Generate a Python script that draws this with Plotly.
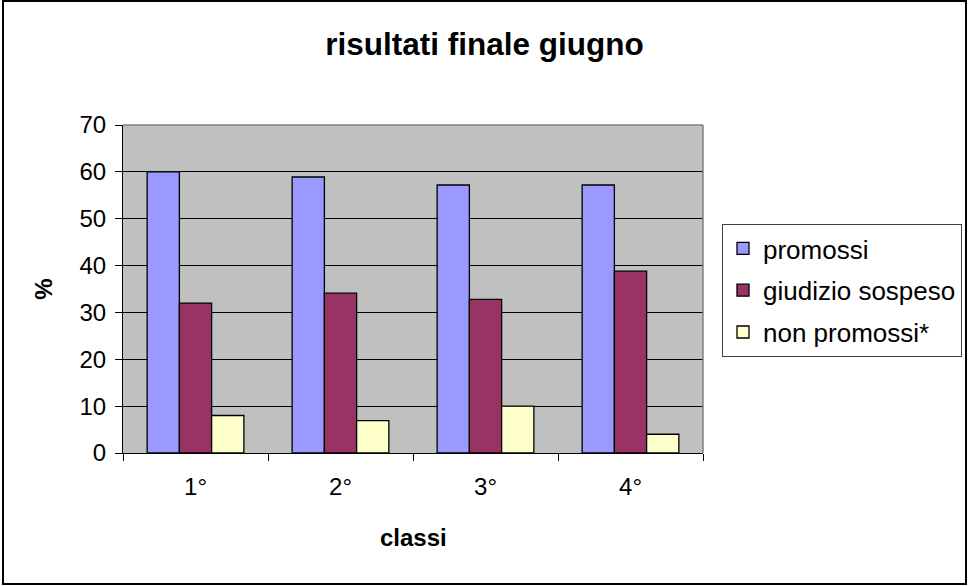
import plotly.graph_objects as go

categories = ["1°", "2°", "3°", "4°"]
promossi = [60.0, 58.9, 57.2, 57.2]
giudizio_sospeso = [32.0, 34.1, 32.8, 38.8]
non_promossi = [8.0, 6.9, 10.0, 4.0]
series_names = ["promossi", "giudizio sospeso", "non promossi*"]
y_ticks = [0, 10, 20, 30, 40, 50, 60, 70]

colors = ["#9999FF", "#993366", "#FFFFCC"]
FONT = "Liberation Sans, Arial, sans-serif"

W, H = 969, 586
L, R, T, B = 123, 703, 125, 453  # plot area pixel box

fig = go.Figure()
for i, (name, vals) in enumerate(zip(series_names, [promossi, giudizio_sospeso, non_promossi])):
    fig.add_trace(go.Bar(
        x=categories, y=vals, name=name,
        marker=dict(color=colors[i], line=dict(color="#000000", width=1.3)),
        legendgroup=f"g{i}",
    ))

def px(xp):
    return (xp - L) / (R - L)

def py(yp):
    return (B - yp) / (B - T)

shapes = [
    # outer chart border
    dict(type="rect", xref="paper", yref="paper",
         x0=px(3), x1=px(966), y0=py(584), y1=py(1),
         line=dict(color="#000000", width=2), fillcolor="rgba(0,0,0,0)", layer="above"),
    # plot area top and right border (gray)
    dict(type="line", xref="paper", yref="paper", x0=0, x1=1, y0=1, y1=1,
         line=dict(color="#808080", width=1.5), layer="above"),
    dict(type="line", xref="paper", yref="paper", x0=1, x1=1, y0=0, y1=1,
         line=dict(color="#808080", width=1.5), layer="above"),
]

fig.update_layout(
    width=W, height=H,
    margin=dict(l=L, r=W - R, t=T, b=H - B, autoexpand=False),
    paper_bgcolor="#FFFFFF",
    plot_bgcolor="#C0C0C0",
    barmode="group",
    bargap=0.333,
    bargroupgap=0,
    font=dict(family=FONT, color="#000000", size=24),
    title=dict(text="<b>risultati finale giugno</b>", x=0.5, xanchor="center",
               xref="container", yref="container", y=1 - 44 / H, yanchor="middle",
               font=dict(size=31.5, family=FONT, color="#000000")),
    xaxis=dict(
        type="category",
        showline=True, linecolor="#000000", linewidth=1,
        ticks="outside", ticklen=7, tickcolor="#000000", tickwidth=1,
        tickson="boundaries",
        ticklabelstandoff=12,
        tickfont=dict(size=24, family=FONT),
        showgrid=False,
    ),
    yaxis=dict(
        range=[0, 70], tickvals=y_ticks,
        showline=True, linecolor="#000000", linewidth=1,
        ticks="outside", ticklen=7, tickcolor="#000000", tickwidth=1,
        ticklabelstandoff=4,
        tickfont=dict(size=24, family=FONT),
        showgrid=True, gridcolor="#000000", gridwidth=1,
        zeroline=False,
        title=dict(text="<b>%</b>", font=dict(size=24, family=FONT), standoff=20),
    ),
    legend=dict(
        x=px(722), xanchor="left", y=py(224), yanchor="top",
        xref="paper", yref="paper",
        bgcolor="#FFFFFF", bordercolor="#404040", borderwidth=1,
        font=dict(size=26, family=FONT),
        traceorder="grouped", tracegroupgap=5,
    ),
    annotations=[
        dict(text="<b>classi</b>", xref="paper", yref="paper",
             x=px(413), y=py(537), xanchor="center", yanchor="middle",
             showarrow=False, font=dict(size=24, family=FONT, color="#000000")),
    ],
    shapes=shapes,
    showlegend=True,
)

fig.write_html("out.html", config={"displayModeBar": False},
               post_script="document.body.style.margin='0';document.body.style.overflow='hidden';")
